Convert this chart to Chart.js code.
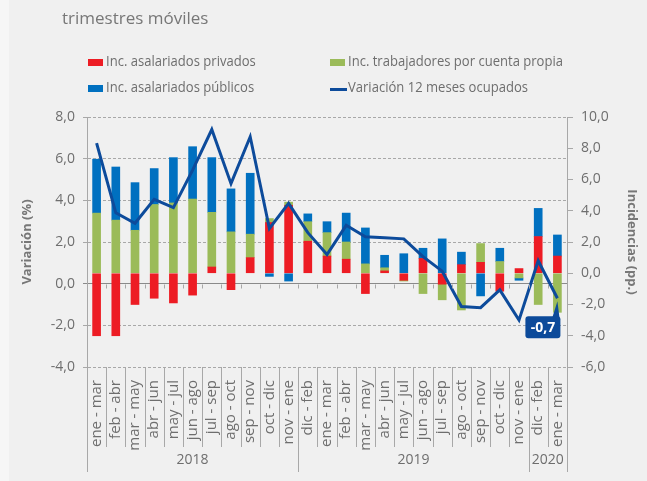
<!DOCTYPE html>
<html><head><meta charset="utf-8">
<script src="https://cdn.jsdelivr.net/npm/chart.js@4.4.1/dist/chart.umd.min.js"></script>
<style>
html,body{margin:0;padding:0;background:#f0f0f0;}
#wrap{position:relative;width:647px;height:481px;overflow:hidden;}
canvas{display:block;}
</style></head><body>
<div id="wrap"><canvas id="c" width="647" height="481"></canvas></div>
<script>
// ---- data ----
const categories = ["ene - mar","feb - abr","mar - may","abr - jun","may - jul","jun - ago","jul - sep","ago - oct","sep - nov","oct - dic","nov - ene",
  "dic - feb","ene - mar","feb - abr","mar - may","abr - jun","may - jul","jun - ago","jul - sep","ago - oct","sep - nov","oct - dic","nov - ene",
  "dic - feb","ene - mar"];
const years = ["2018","2019","2020"];
const yearCounts = [11, 12, 2];
const privados = [-4.0,-4.0,-2.0,-1.6,-1.9,-1.4,0.4,-1.05,1.0,3.25,4.35,2.05,1.1,0.9,-1.3,0.15,-0.45,0.95,-0.7,0.55,0.7,-1.15,0.3,2.35,1.1];
const cuentaPropia = [3.85,3.4,2.75,4.4,4.5,4.75,3.5,2.65,1.5,0.25,0.2,1.25,1.5,1.1,0.6,0.2,-0.05,-1.3,-1.0,-2.35,1.2,0.75,-0.3,-2.0,-2.5];
const publicos = [3.45,3.4,3.05,2.3,2.9,3.35,3.5,2.75,3.9,-0.2,-0.5,0.5,0.7,1.85,2.3,0.8,1.25,0.65,2.2,0.8,-1.45,0.85,-0.15,1.8,1.35];
const ocupados = [6.75,3.4,2.9,4.05,3.65,5.45,7.4,4.8,7.05,2.65,3.85,2.45,1.4,2.8,2.25,2.2,2.15,1.3,0.6,-1.1,-1.15,-0.3,-1.75,1.1,-0.7];
const seriesNames = ["Inc. asalariados privados","Inc. trabajadores por cuenta propia","Inc. asalariados públicos","Variación 12 meses ocupados"];
const subtitle = "trimestres móviles";
const leftTitle = "Variación (%)";
const rightTitle = "Incidencias (pp.)";

const fmt = v => v.toFixed(1).replace('.', ',');
const GRAY = '#a8a8a8';
const TXT = '#6e6e6e';

function narrowText(ctx, txt, x, y, sx) {
  ctx.save();
  ctx.translate(x, y);
  ctx.scale(sx, 1);
  ctx.fillText(txt, 0, 0);
  ctx.restore();
}

const decor = {
  id: 'decor',
  beforeDraw(chart) {
    const ctx = chart.ctx;
    ctx.save();
    ctx.fillStyle = '#f0f0f0'; ctx.fillRect(0, 0, chart.width, chart.height);
    ctx.fillStyle = '#f6f6f6'; ctx.fillRect(0, 0, 9, chart.height);
    ctx.restore();
  },
  afterDraw(chart) {
    const {ctx, chartArea: ca, scales} = chart;
    const x = scales.x, y = scales.y;
    const n = categories.length;
    const step = x.getPixelForValue(1) - x.getPixelForValue(0);
    const bnd = i => x.getPixelForValue(i) - step / 2;
    ctx.save();
    ctx.strokeStyle = GRAY; ctx.lineWidth = 1;
    const yb = new Set([0]); let acc = 0; yearCounts.forEach(c => { acc += c; yb.add(acc); });
    const y0 = Math.round(y.getPixelForValue(0)) + 0.5;
    for (let i = 0; i <= n; i++) {
      const px = Math.round(bnd(i)) + 0.5;
      const bot = yb.has(i) ? ca.bottom + 105 : ca.bottom + 80;
      ctx.beginPath(); ctx.moveTo(px, ca.bottom); ctx.lineTo(px, bot); ctx.stroke();
      if (i > 0 && i < n) { ctx.beginPath(); ctx.moveTo(px, y0); ctx.lineTo(px, y0 + 4); ctx.stroke(); }
    }
    // year labels
    ctx.fillStyle = TXT; ctx.font = "14px 'Open Sans'"; ctx.textAlign = 'center'; ctx.textBaseline = 'middle';
    let s = 0;
    years.forEach((yr, k) => {
      const cx = (bnd(s) + bnd(s + yearCounts[k])) / 2;
      ctx.fillText(yr, cx, ca.bottom + 93);
      s += yearCounts[k];
    });
    // subtitle
    ctx.textAlign = 'left'; ctx.textBaseline = 'alphabetic';
    ctx.fillStyle = '#777'; ctx.font = "17px 'Open Sans'";
    ctx.fillText(subtitle, 62, 24);
    // legend
    const ds = chart.data.datasets;
    const cols = [88, 330], rows = [62, 88];
    const orderIdx = [0, 1, 2, 3];
    ctx.font = "15px 'Open Sans'"; ctx.textBaseline = 'middle';
    orderIdx.forEach((di, k) => {
      const lx = cols[k % 2], ly = rows[Math.floor(k / 2)];
      const d = ds[di];
      if (d.type === 'line') {
        ctx.fillStyle = d.borderColor; ctx.fillRect(lx, ly, 17, 3);
      } else {
        ctx.fillStyle = d.backgroundColor; ctx.fillRect(lx, ly - 3, 15, 7);
      }
      ctx.fillStyle = TXT;
      narrowText(ctx, d.label, d.type === 'line' ? lx + 18 : lx + 18, ly, 0.87);
    });
    // callout for last line value
    const li = ds.findIndex(d => d.type === 'line');
    const meta = chart.getDatasetMeta(li);
    const pt = meta.data[n - 1];
    const val = ds[li].data[n - 1];
    const bw = 35, bh = 22;
    const bx = pt.x + 3 - bw, by = pt.y + 18;
    ctx.fillStyle = '#0c4a9a';
    ctx.beginPath();
    ctx.moveTo(pt.x - 5, by + 1); ctx.lineTo(pt.x + 2, by + 1); ctx.lineTo(pt.x, pt.y + 3); ctx.closePath(); ctx.fill();
    ctx.beginPath(); ctx.roundRect(bx, by, bw, bh, 3); ctx.fill();
    ctx.fillStyle = '#fff'; ctx.font = "bold 14px 'Open Sans'"; ctx.textAlign = 'center'; ctx.textBaseline = 'middle';
    ctx.fillText(fmt(val), bx + bw / 2, by + bh / 2 + 1);
    ctx.restore();
  }
};

Chart.defaults.font.family = "'Open Sans', sans-serif";
Chart.defaults.color = TXT;

new Chart(document.getElementById('c'), {
  type: 'bar',
  data: {
    labels: categories,
    datasets: [
      { label: seriesNames[0], data: privados, backgroundColor: '#ed1c24', yAxisID: 'y1', order: 1, barThickness: 8 },
      { label: seriesNames[1], data: cuentaPropia, backgroundColor: '#9bbb59', yAxisID: 'y1', order: 1, barThickness: 8 },
      { label: seriesNames[2], data: publicos, backgroundColor: '#0070c0', yAxisID: 'y1', order: 1, barThickness: 8 },
      { type: 'line', label: seriesNames[3], data: ocupados, borderColor: '#0d4b9b', borderWidth: 3, pointRadius: 0, tension: 0, yAxisID: 'y', order: 0 }
    ]
  },
  options: {
    responsive: false, animation: false, devicePixelRatio: 1, events: [],
    layout: { padding: { top: 117, left: 0, right: 0, bottom: 0 } },
    plugins: { legend: { display: false }, tooltip: { enabled: false } },
    scales: {
      x: {
        stacked: true, offset: true,
        grid: { display: false }, border: { display: false },
        ticks: { autoSkip: false, minRotation: 90, maxRotation: 90, padding: 5, font: { size: 15 }, color: TXT },
        afterFit: s => { s.height = 114; }
      },
      y: {
        position: 'left', stacked: false, min: -4, max: 8,
        ticks: { stepSize: 2, callback: v => fmt(v), padding: 8, font: { size: 14 }, color: TXT },
        grid: { color: ctx => (ctx.tick && ctx.tick.value === 0) ? '#8a8a8a' : GRAY, tickLength: 4, lineWidth: 1 },
        border: { display: true, color: GRAY, dash: ctx => (ctx.tick && ctx.tick.value === 0) ? [] : [3, 2] },
        title: { display: true, text: leftTitle, font: { size: 13, weight: 'bold' }, color: '#777', padding: { top: 19, bottom: 0 } },
        afterFit: s => { s.width = 87; }
      },
      y1: {
        position: 'right', stacked: true, min: -6, max: 10,
        ticks: { stepSize: 2, callback: v => fmt(v), padding: 8, font: { size: 14 }, color: TXT },
        grid: { drawOnChartArea: false, color: GRAY, tickLength: 6 },
        border: { display: true, color: GRAY },
        title: { display: true, text: rightTitle, font: { size: 13, weight: 'bold' }, color: '#777', padding: { top: 7, bottom: 0 } },
        afterFit: s => { s.width = 80; }
      }
    }
  },
  plugins: [decor]
});
</script>
</body></html>
